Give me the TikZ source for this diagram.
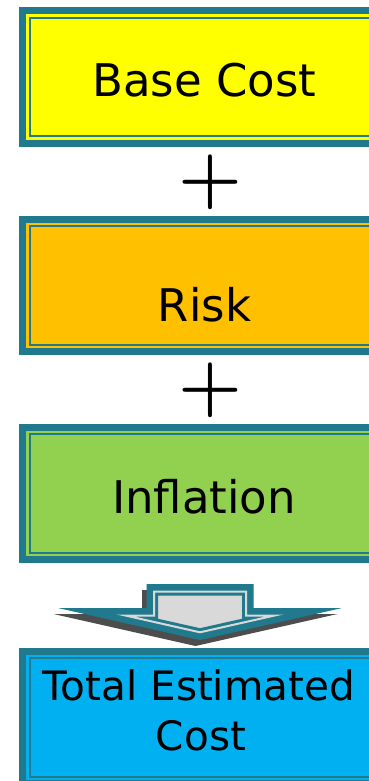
\documentclass[tikz,border=0pt]{standalone}
\usepackage{fontspec}
\newfontfamily\boxfont{DejaVu Sans}

\definecolor{frame}{RGB}{32,121,140}
\definecolor{baseyellow}{HTML}{FFFF00}
\definecolor{riskorange}{HTML}{FFC000}
\definecolor{inflgreen}{HTML}{92D050}
\definecolor{totalblue}{HTML}{00B0F0}
\definecolor{arrowgray}{HTML}{D9D9D9}
\definecolor{shadowgray}{HTML}{4D4D4D}

\tikzset{
  costbox/.style={rectangle, minimum width=350pt, minimum height=118.5pt,
    preaction={draw=frame, line width=21pt},
    preaction={draw=#1, line width=7pt},
    fill=#1, draw=frame, line width=2pt},
  boxtext/.style={font=\boxfont\fontsize{45}{54}\selectfont, inner sep=0pt, anchor=base},
  totaltext/.style={font=\boxfont\fontsize{40.5}{50}\selectfont, inner sep=0pt, anchor=base},
  plussign/.style={font=\bfseries\fontsize{73}{73}\selectfont, inner sep=0pt},
}

\begin{document}
\begin{tikzpicture}[x=1pt, y=-1pt]
\useasboundingbox (0,0) rectangle (369,781);
\clip (0,0) rectangle (369,781);
\fill[white] (0,0) rectangle (369,781);

% the three parts and the sum
\node[costbox=baseyellow] (base) at (204.5,77) {};
\node[costbox=riskorange] (risk) at (204.5,285.5) {};
\node[costbox=inflgreen] (infl) at (204.5,493.5) {};
\node[costbox=totalblue] (total) at (204.5,717.5) {};

\node[boxtext] (baseText) at (204.5,97) {Base Cost};
\node[boxtext] (riskText) at (204.5,321.7) {Risk};
\node[boxtext] (inflText) at (204,513.3) {Inflation};
\node[totaltext] (totalText) at (199,700) {Total Estimated};
\node[totaltext] (costText) at (201,750) {Cost};

\node[plussign] (plusA) at (210,182) {+};
\node[plussign] (plusB) at (210,390) {+};

% block arrow
\fill[shadowgray, shift={(-4.5,6)}] (146.5,584) -- (253.5,584) -- (253.5,608) -- (342,608)
  -- (200,640) -- (58,608) -- (146.5,608) -- cycle;
\fill[frame] (146.5,584) -- (253.5,584) -- (253.5,608) -- (342,608)
  -- (200,640) -- (58,608) -- (146.5,608) -- cycle;
\draw[arrowgray, line width=2pt] (154,591.5) -- (246,591.5) -- (246,615.5) -- (274.6,615.5)
  -- (200,632.3) -- (125.4,615.5) -- (154,615.5) -- cycle;
\draw[frame, fill=arrowgray, line width=2pt] (157,594.5) -- (243,594.5) -- (243,618.5) -- (247.7,618.5)
  -- (200,629.2) -- (152.3,618.5) -- (157,618.5) -- cycle;

\end{tikzpicture}
\end{document}
